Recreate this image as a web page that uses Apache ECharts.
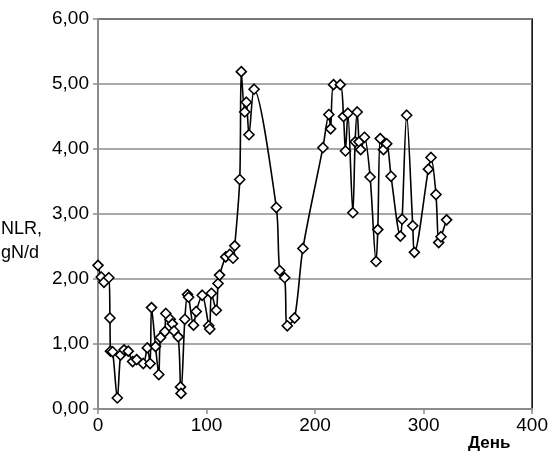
<!DOCTYPE html>
<html>
<head>
<meta charset="utf-8">
<script src="https://cdn.jsdelivr.net/npm/echarts@6/dist/echarts.min.js"></script>
<style>
  html, body { margin: 0; padding: 0; background: #fff; }
  #chart { width: 551px; height: 463px; }
</style>
</head>
<body>
<div id="chart"></div>
<script>
// Nitrogen loading rate by day
const days = [0, 3, 5.5, 10, 11, 11.5, 13.5, 17.8, 20.8, 24, 27.9, 31.9, 35.6, 41.7, 45.4, 48, 49.3,
  53, 56, 57.6, 61.6, 62.5, 66.5, 68.5, 70, 73.9, 76, 76.5, 80, 82.5, 83.5, 88, 90.5, 96, 102,
  103, 104.5, 109, 110.6, 112, 117.7, 121.4, 124.4, 126, 130.6, 132, 135.2, 136.7, 139.1, 143.8,
  164.3, 167.4, 172, 174.4, 181.1, 188.8, 207.2, 212.7, 214.3, 217, 223.2, 226.2, 228, 230.2,
  234.8, 236.9, 238.8, 240.5, 242, 245.5, 250.7, 256.2, 257.8, 260, 263, 266, 270, 278.6, 280.2,
  284.4, 290, 291.5, 304.4, 306.8, 311.4, 313.9, 316, 321.2];
const nlr = [2.21, 2.03, 1.95, 2.02, 1.40, 0.89, 0.88, 0.17, 0.83, 0.91, 0.89, 0.73, 0.76, 0.70, 0.94, 0.70, 1.56,
  0.96, 0.53, 1.10, 1.19, 1.47, 1.38, 1.31, 1.20, 1.11, 0.34, 0.24, 1.38, 1.76, 1.72, 1.29, 1.50, 1.75, 1.28,
  1.23, 1.78, 1.52, 1.93, 2.06, 2.34, 2.38, 2.32, 2.51, 3.53, 5.19, 4.57, 4.72, 4.22, 4.92,
  3.10, 2.13, 2.02, 1.28, 1.40, 2.47, 4.02, 4.53, 4.31, 4.99, 4.99, 4.50, 3.97, 4.55,
  3.02, 4.11, 4.57, 4.11, 3.99, 4.18, 3.57, 2.27, 2.76, 4.16, 3.99, 4.08, 3.58, 2.66, 2.92,
  4.52, 2.82, 2.41, 3.69, 3.87, 3.30, 2.56, 2.65, 2.91];
const xTicks = { min: 0, max: 400, step: 100 };
const yTicks = { min: 0, max: 6, step: 1 };

const points = days.map((d, i) => [d, nlr[i]]);
const fontFamily = '"Liberation Sans", Arial, sans-serif';
const gridGray = '#8c8c8c';

const chart = echarts.init(document.getElementById('chart'));
chart.setOption({
  animation: false,
  backgroundColor: '#fff',
  grid: {
    left: 98, right: 18, top: 19, bottom: 54,
    show: true, borderColor: '#000', borderWidth: 1.5, backgroundColor: 'transparent'
  },
  xAxis: {
    type: 'value', min: xTicks.min, max: xTicks.max, interval: xTicks.step,
    axisLine: { show: true, onZero: false, lineStyle: { color: gridGray, width: 2 } },
    axisTick: { show: true, length: 5, lineStyle: { color: gridGray, width: 1.5 } },
    splitLine: { show: false },
    axisLabel: { color: '#000', fontSize: 19, fontFamily, margin: 7 }
  },
  yAxis: {
    type: 'value', min: yTicks.min, max: yTicks.max, interval: yTicks.step,
    axisLine: { show: true, onZero: false, lineStyle: { color: gridGray, width: 2 } },
    axisTick: { show: true, length: 5, lineStyle: { color: gridGray, width: 1.5 } },
    splitLine: { show: true, lineStyle: { color: gridGray, width: 1.5 } },
    axisLabel: {
      color: '#000', fontSize: 19, fontFamily, margin: 9,
      formatter: v => v.toFixed(2).replace('.', ',')
    }
  },
  graphic: [
    { type: 'text', left: 1, top: 217,
      style: { text: 'NLR,\ngN/d', fill: '#000', font: '18px ' + fontFamily, lineHeight: 24 } },
    { type: 'text', left: 468, top: 435,
      style: { text: 'День', fill: '#000', font: 'bold 17px ' + fontFamily } }
  ],
  series: [{
    type: 'line',
    data: points,
    smooth: 0.3,
    symbol: 'diamond',
    symbolSize: 10,
    lineStyle: { color: '#000', width: 1.6 },
    itemStyle: { color: '#fff', borderColor: '#000', borderWidth: 1.6 }
  }]
});
</script>
</body>
</html>
